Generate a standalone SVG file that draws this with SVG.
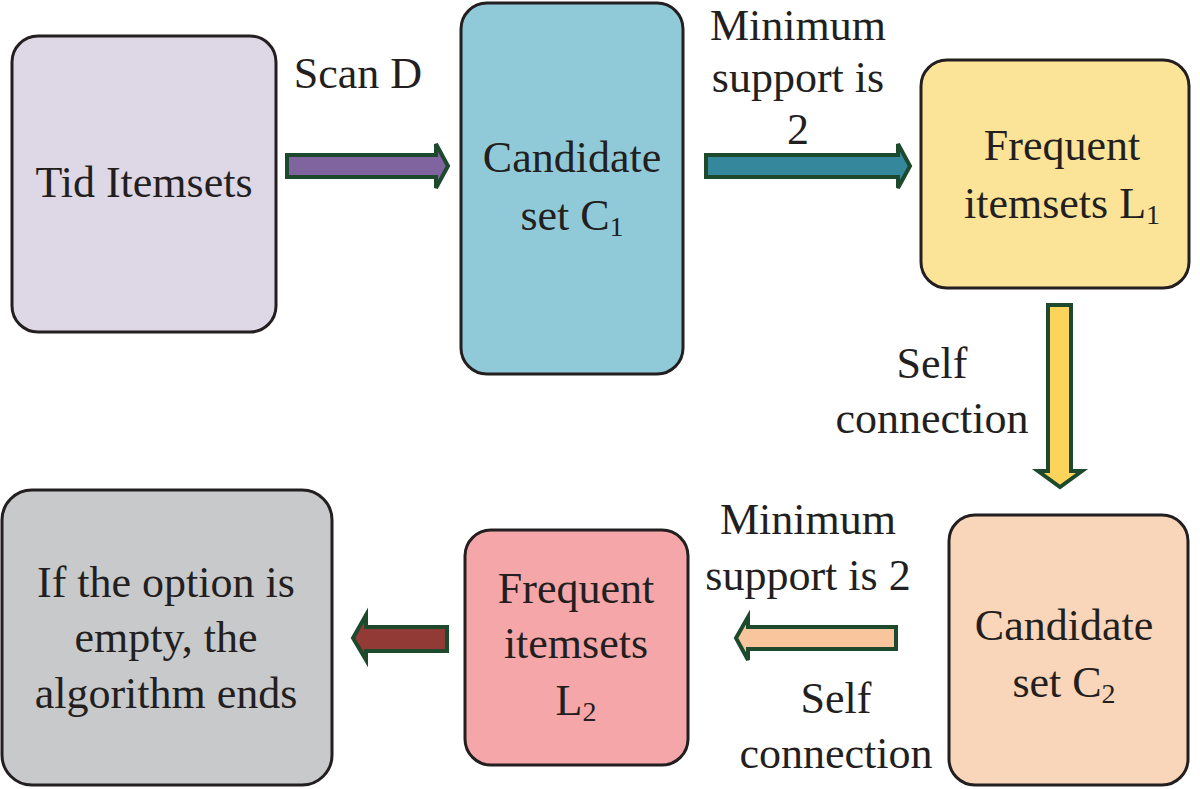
<svg xmlns="http://www.w3.org/2000/svg" width="1200" height="789" viewBox="0 0 1200 789">
<style>
.box{stroke:#231f20;stroke-width:3}
.t{font-family:"Liberation Serif","Times New Roman",serif;font-size:44px;fill:#231f20;text-anchor:middle}
.sub{font-size:28px}
.arr{stroke:#1d4a2c;stroke-width:4;stroke-linejoin:miter}
</style>
<rect width="1200" height="789" fill="#ffffff"/>
<g id="n1"><rect class="box" x="12" y="36" width="264" height="296" rx="26" fill="#ddd7e6"/>
<text class="t" x="144" y="197">Tid Itemsets</text></g>
<g id="n2"><rect class="box" x="461" y="3" width="222" height="371" rx="26" fill="#90cad9"/>
<text class="t" x="572" y="172">Candidate</text>
<text class="t" x="572" y="230">set C<tspan class="sub" dy="6">1</tspan></text></g>
<g id="n3"><rect class="box" x="921" y="60" width="268" height="228" rx="26" fill="#fbe498"/>
<text class="t" x="1062" y="160">Frequent</text>
<text class="t" x="1062" y="218">itemsets L<tspan class="sub" dy="6">1</tspan></text></g>
<g id="n4"><rect class="box" x="949" y="515" width="239" height="270" rx="26" fill="#f9d5b9"/>
<text class="t" x="1064" y="640">Candidate</text>
<text class="t" x="1064" y="697">set C<tspan class="sub" dy="6">2</tspan></text></g>
<g id="n5"><rect class="box" x="465" y="530" width="223" height="235" rx="26" fill="#f5a6a8"/>
<text class="t" x="576" y="603">Frequent</text>
<text class="t" x="576" y="658">itemsets</text>
<text class="t" x="576" y="715">L<tspan class="sub" dy="6">2</tspan></text></g>
<g id="n6"><rect class="box" x="2" y="490" width="330" height="295" rx="30" fill="#c8c9cb"/>
<text class="t" x="166" y="597">If the option is</text>
<text class="t" x="166" y="652">empty, the</text>
<text class="t" x="166" y="708">algorithm ends</text></g>
<g id="connectors">
<path class="arr" fill="#7f64a0" d="M287,155 H436 V144 L448,166 L436,188 V177 H287 Z"/>
<path class="arr" fill="#35889c" d="M706,155 H898 V144 L910,166 L898,188 V177 H706 Z"/>
<path class="arr" fill="#fcd45c" d="M1048,305 H1071 V471 H1082 L1060,487 L1038,471 H1048 Z"/>
<path class="arr" fill="#f8c59c" d="M896,627 H748 V617 L736,638 L748,660 V649 H896 Z"/>
<path class="arr" fill="#923a35" d="M447,627 H366 V615 L353,638 L366,660 V651 H447 Z"/>
<text class="t" x="358" y="88">Scan D</text>
<text class="t" x="798" y="40">Minimum</text>
<text class="t" x="798" y="92">support is</text>
<text class="t" x="798" y="144">2</text>
<text class="t" x="932" y="378">Self</text>
<text class="t" x="932" y="433">connection</text>
<text class="t" x="808" y="534">Minimum</text>
<text class="t" x="808" y="590">support is 2</text>
<text class="t" x="836" y="713">Self</text>
<text class="t" x="836" y="768">connection</text>
</g>
</svg>
